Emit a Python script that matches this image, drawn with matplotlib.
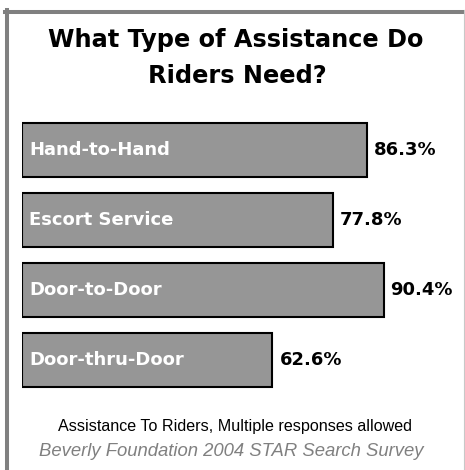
import matplotlib.pyplot as plt
from matplotlib.lines import Line2D

categories = ['Hand-to-Hand', 'Escort Service', 'Door-to-Door', 'Door-thru-Door']
percent = [86.3, 77.8, 90.4, 62.6]

W, H = 465, 470
fig = plt.figure(figsize=(W / 100, H / 100), dpi=100)
fig.patch.set_facecolor('white')

# gray frame: heavy on left/top, thin on the right
fig.add_artist(Line2D([7 / W, 7 / W], [0, 1 - 10 / H], color='#808080', lw=2.9))
fig.add_artist(Line2D([5 / W, 463 / W], [1 - 12 / H, 1 - 12 / H], color='#808080', lw=2.9))
fig.add_artist(Line2D([464 / W, 464 / W], [0, 1 - 10 / H], color='#c8c8c8', lw=0.8))

fig.text(236 / W, 1 - 40 / H, 'What Type of Assistance Do', ha='center', va='center',
         fontsize=17.3, fontweight='bold', family='DejaVu Sans')
fig.text(237 / W, 1 - 76 / H, 'Riders Need?', ha='center', va='center',
         fontsize=17.3, fontweight='bold', family='DejaVu Sans')

ax = fig.add_axes([22 / W, 75 / H, 400 / W, 280 / H])
y = list(range(len(categories)))
ax.barh(y, percent, height=0.77, color='#969696', edgecolor='black', linewidth=1.5)
for i, (name, v) in enumerate(zip(categories, percent)):
    ax.text(1.75, i, name, color='white', fontsize=13, fontweight='bold',
            va='center', ha='left', family='DejaVu Sans')
    ax.text(v + 1.75, i, f'{v}%', color='black', fontsize=13, fontweight='bold',
            va='center', ha='left', family='DejaVu Sans')
ax.set_xlim(0, 100)
ax.set_ylim(3.5, -0.5)
ax.axis('off')

fig.text(235 / W, 1 - 427 / H, 'Assistance To Riders, Multiple responses allowed',
         ha='center', va='center', fontsize=11.6, family='Liberation Sans')
fig.text(231 / W, 1 - 452 / H, 'Beverly Foundation 2004 STAR Search Survey',
         ha='center', va='center', fontsize=13.3, style='italic', color='#808080',
         family='Liberation Sans')

fig.savefig('out.png', dpi=100)
